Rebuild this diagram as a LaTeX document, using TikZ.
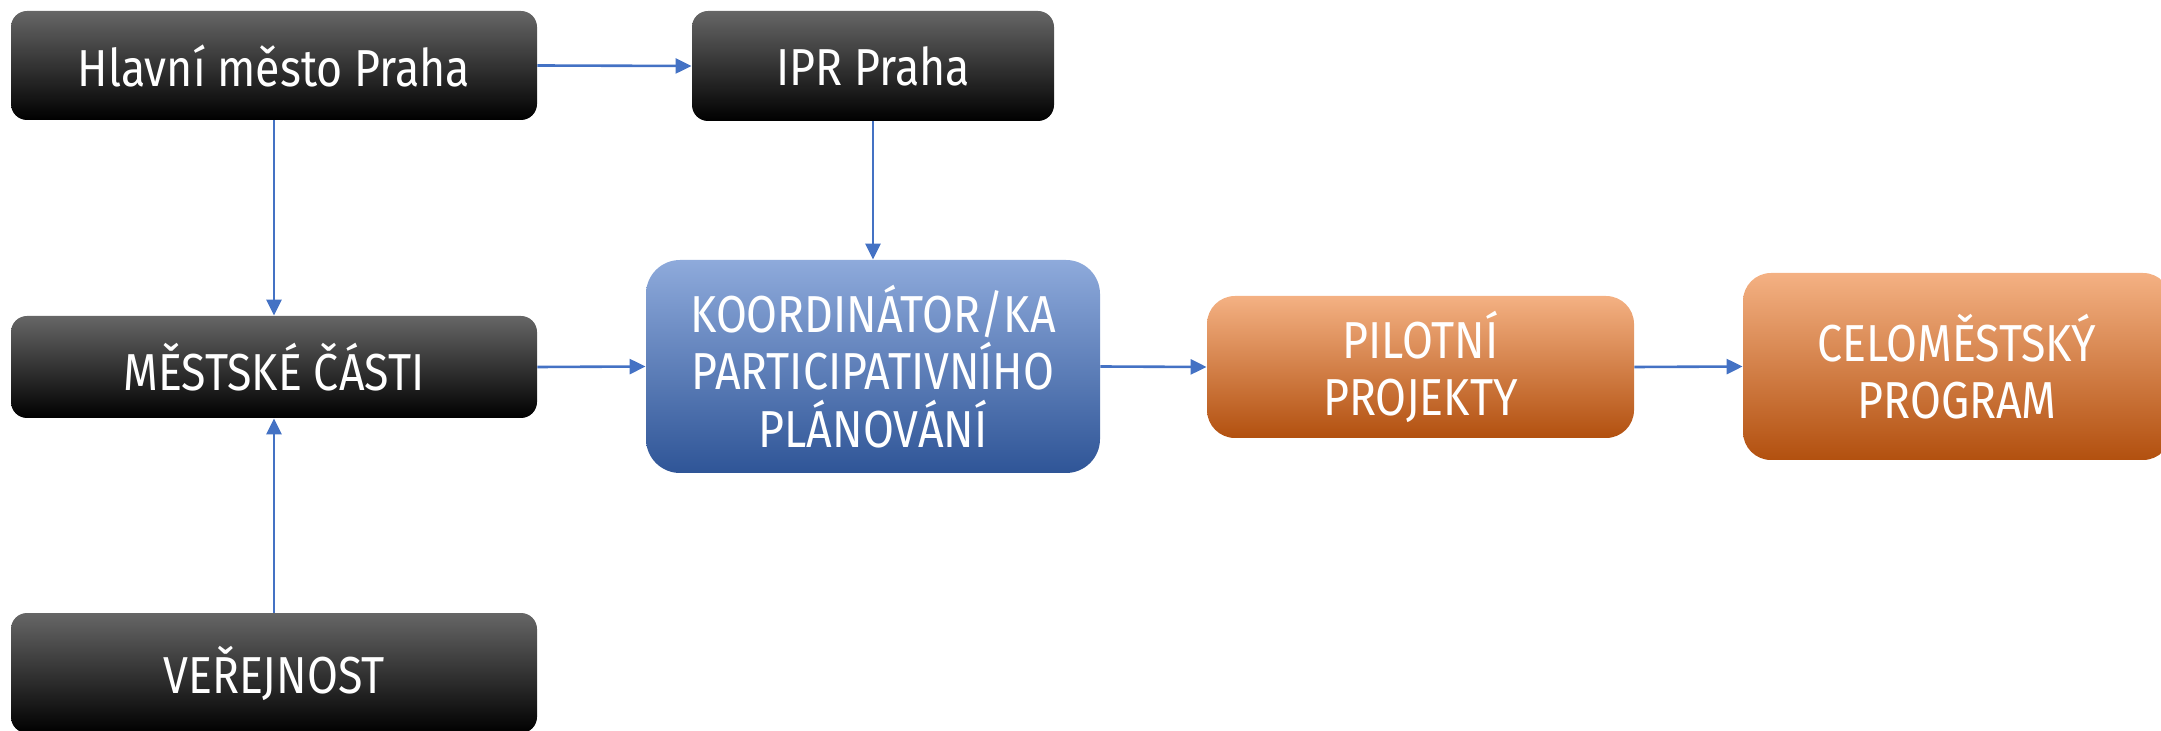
\documentclass[tikz,border=0pt]{standalone}
\usepackage{fontspec}
\setmainfont{Fira Sans}[FakeStretch=0.86]
\usetikzlibrary{arrows.meta}
\definecolor{arrowblue}{HTML}{4472C4}
\definecolor{blkTop}{HTML}{666666}
\definecolor{bluTop}{HTML}{8EAADB}
\definecolor{bluMid}{HTML}{4472C4}
\definecolor{bluBot}{HTML}{2F5597}
\definecolor{orTop}{HTML}{F4B183}
\definecolor{orMid}{HTML}{ED7D31}
\definecolor{orBot}{HTML}{B2500F}
\tikzset{
  boxtext/.style={text=white, align=center, font=\fontsize{26}{28.6}\selectfont, inner sep=0pt},
  blackbox/.style={boxtext, rounded corners=8pt, top color=blkTop, middle color=black, bottom color=black},
  bluebox/.style={boxtext, rounded corners=17pt, top color=bluTop, middle color=bluMid, bottom color=bluBot},
  orangebox/.style={boxtext, rounded corners=14pt, top color=orTop, middle color=orMid, bottom color=orBot},
  conn/.style={draw=arrowblue, line width=1.3pt, -{Triangle[length=8pt,width=7.5pt]}}
}
\begin{document}
\begin{tikzpicture}[x=0.5pt,y=-0.5pt]
\useasboundingbox (0,0) rectangle (2161,731);
\node[blackbox, minimum width=263pt, minimum height=54.5pt] (hl) at (274,65.5) {Hlavní město Praha};
\node[blackbox, minimum width=181pt, minimum height=55pt] (ipr) at (873,66) {IPR Praha};
\node[blackbox, minimum width=263pt, minimum height=51pt] (mc) at (274,367) {MĚSTSKÉ ČÁSTI};
\node[blackbox, minimum width=263pt, minimum height=60pt] (ver) at (274,673) {VEŘEJNOST};
\node[bluebox, minimum width=227pt, minimum height=106.5pt] (ko) at (873,366.5) {KOORDINÁTOR/KA\\PARTICIPATIVNÍHO\\PLÁNOVÁNÍ};
\node[orangebox, minimum width=213.5pt, minimum height=71pt] (pi) at (1420.5,367) {PILOTNÍ\\PROJEKTY};
\node[orangebox, minimum width=214pt, minimum height=93.5pt] (ce) at (1957,366.5) {CELOMĚSTSKÝ\\PROGRAM};
\draw[conn] (hl.east) -- (ipr.west);
\draw[conn] (hl.south) -- (mc.north);
\draw[conn] (ipr.south) -- (ko.north);
\draw[conn] (ver.north) -- (mc.south);
\draw[conn] (mc.east) -- (ko.west);
\draw[conn] (ko.east) -- (pi.west);
\draw[conn] (pi.east) -- (ce.west);
\end{tikzpicture}
\end{document}
